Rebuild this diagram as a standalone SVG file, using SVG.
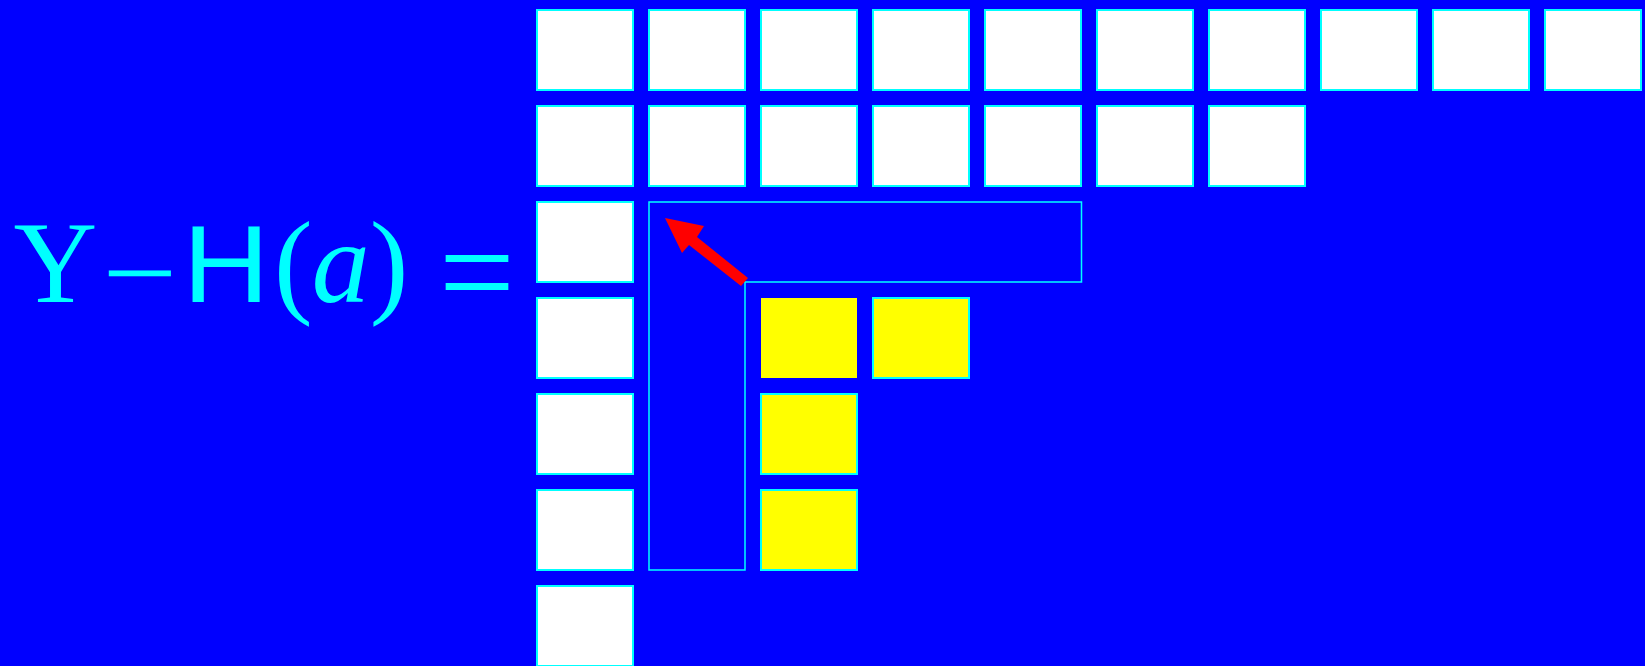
<svg xmlns="http://www.w3.org/2000/svg" width="1645" height="666" viewBox="0 0 1645 666">
<style>
.w{fill:#FFFFFF;stroke:#00FFFF;stroke-width:2}
.y{fill:#FFFF00;stroke:#00FFFF;stroke-width:2}
.yn{fill:#FFFF00;stroke:none}
.s{font-family:"Liberation Serif","Times New Roman",serif;font-size:116px;fill:#00FFFF}
.m{text-anchor:middle}
.h{font-family:"Liberation Sans",Arial,sans-serif;font-size:109px;fill:#00FFFF;text-anchor:middle}
</style>
<rect width="1645" height="666" fill="#0000FF"/>
<g id="formula">
<text class="s m" x="55.5" y="302">Y</text>
<text class="s m" transform="translate(139.5,312) scale(1.15,1)" x="0" y="0">−</text>
<text class="h" transform="translate(226,302) scale(1.1,1)" x="0" y="0">H</text>
<text class="s" x="274" y="302">(<tspan font-style="italic" dx="-1">a</tspan>)</text>
<text class="s m" transform="translate(477,271.5) scale(1.16,1.21)" x="0" y="39">=</text>
</g>
<g id="row1">
<rect class="w" x="537" y="10" width="96" height="80"/>
<rect class="w" x="649" y="10" width="96" height="80"/>
<rect class="w" x="761" y="10" width="96" height="80"/>
<rect class="w" x="873" y="10" width="96" height="80"/>
<rect class="w" x="985" y="10" width="96" height="80"/>
<rect class="w" x="1097" y="10" width="96" height="80"/>
<rect class="w" x="1209" y="10" width="96" height="80"/>
<rect class="w" x="1321" y="10" width="96" height="80"/>
<rect class="w" x="1433" y="10" width="96" height="80"/>
<rect class="w" x="1545" y="10" width="96" height="80"/>
</g>
<g id="row2">
<rect class="w" x="537" y="106" width="96" height="80"/>
<rect class="w" x="649" y="106" width="96" height="80"/>
<rect class="w" x="761" y="106" width="96" height="80"/>
<rect class="w" x="873" y="106" width="96" height="80"/>
<rect class="w" x="985" y="106" width="96" height="80"/>
<rect class="w" x="1097" y="106" width="96" height="80"/>
<rect class="w" x="1209" y="106" width="96" height="80"/>
</g>
<g id="col1">
<rect class="w" x="537" y="202" width="96" height="80"/>
<rect class="w" x="537" y="298" width="96" height="80"/>
<rect class="w" x="537" y="394" width="96" height="80"/>
<rect class="w" x="537" y="490" width="96" height="80"/>
<rect class="w" x="537" y="586" width="96" height="80"/>
</g>
<g id="yellow">
<rect class="yn" x="761" y="298" width="96" height="80"/>
<rect class="y" x="873" y="298" width="96" height="80"/>
<rect class="y" x="761" y="394" width="96" height="80"/>
<rect class="y" x="761" y="490" width="96" height="80"/>
</g>
<g id="hook">
<path d="M649,202 H1081.5 V282 H745 V570 H649 Z" fill="none" stroke="#00FFFF" stroke-width="1.5"/>
</g>
<g id="connectors">
<polygon points="665,218 704,226 697,237 748,278 741,286 689,245 682,253" fill="#FF0000"/>
</g>
</svg>
